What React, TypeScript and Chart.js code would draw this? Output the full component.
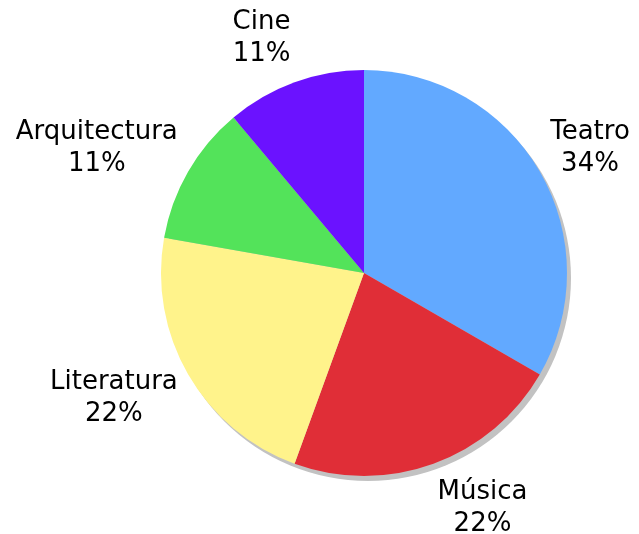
import React, { useEffect, useRef } from "react";
import { Chart, registerables } from "chart.js";

Chart.register(...registerables);

const categories = ["Teatro", "Música", "Literatura", "Arquitectura", "Cine"];
const values = [3, 2, 2, 1, 1];
const colors = ["#62a9ff", "#e02e37", "#fff38b", "#53e35a", "#6b12ff"];

// Percentages rounded so that they add up to 100 (largest remainder)
function percentLabels(vals: number[]): string[] {
  const total = vals.reduce((a, b) => a + b, 0);
  const raw = vals.map((v) => (v / total) * 100);
  const floors = raw.map((r) => Math.floor(r));
  let rest = 100 - floors.reduce((a, b) => a + b, 0);
  const order = raw
    .map((r, i) => ({ i, rem: r - Math.floor(r) }))
    .sort((a, b) => b.rem - a.rem);
  for (let k = 0; k < order.length && rest > 0; k++, rest--) floors[order[k].i] += 1;
  return floors.map((p) => p + "%");
}

const shadowPlugin = {
  id: "pieShadow",
  beforeDatasetsDraw(chart: any) {
    const arc = chart.getDatasetMeta(0).data[0];
    if (!arc) return;
    const ctx = chart.ctx;
    ctx.save();
    ctx.fillStyle = "#c2c2c2";
    ctx.beginPath();
    ctx.arc(arc.x + 4, arc.y + 5, arc.outerRadius, 0, Math.PI * 2);
    ctx.fill();
    ctx.restore();
  },
};

const labelPlugin = {
  id: "outerLabels",
  afterDatasetsDraw(chart: any) {
    const meta = chart.getDatasetMeta(0);
    const ctx = chart.ctx;
    const pct = percentLabels(values);
    const fontSize = 26;
    const lineH = 32;
    ctx.save();
    ctx.font = `${fontSize}px "DejaVu Sans", sans-serif`;
    ctx.fillStyle = "#000";
    ctx.textAlign = "center";
    ctx.textBaseline = "middle";
    meta.data.forEach((arc: any, i: number) => {
      const mid = (arc.startAngle + arc.endAngle) / 2;
      const c = Math.cos(mid);
      const s = Math.sin(mid);
      const r = arc.outerRadius + 12;
      const ax = arc.x + c * r;
      const ay = arc.y + s * r;
      const l1 = categories[i];
      const l2 = pct[i];
      const w = Math.max(ctx.measureText(l1).width, ctx.measureText(l2).width);
      const h = 70;
      const cx = ax + (Math.sign(c) * w) / 2;
      const cy = ay + (s * h) / 2;
      ctx.fillText(l1, cx, cy - lineH / 2);
      ctx.fillText(l2, cx, cy + lineH / 2);
    });
    ctx.restore();
  },
};

export default function App() {
  const ref = useRef<HTMLCanvasElement>(null);
  useEffect(() => {
    document.body.style.margin = "0";
    const chart = new Chart(ref.current!, {
      type: "pie",
      data: {
        labels: categories,
        datasets: [
          {
            data: values,
            backgroundColor: colors,
            borderWidth: 0,
          },
        ],
      },
      options: {
        animation: false,
        responsive: false,
        layout: { padding: { top: 70, bottom: 58, left: 161, right: 72 } },
        plugins: {
          legend: { display: false },
          tooltip: { enabled: false },
        },
      },
      plugins: [shadowPlugin, labelPlugin],
    });
    return () => chart.destroy();
  }, []);
  return (
    <div style={{ position: "absolute", left: 0, top: 0, width: 639, height: 534, background: "#fff" }}>
      <canvas ref={ref} width={639} height={534} />
    </div>
  );
}
